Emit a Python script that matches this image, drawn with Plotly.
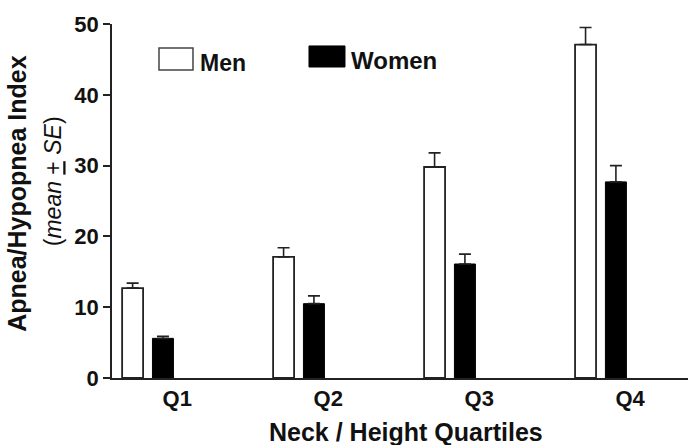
import plotly.graph_objects as go

categories = ["Q1", "Q2", "Q3", "Q4"]
men_mean = [12.7, 17.1, 29.8, 47.1]
men_se = [0.7, 1.3, 2.0, 2.4]
women_mean = [5.6, 10.5, 16.1, 27.7]
women_se = [0.3, 1.1, 1.4, 2.3]

FONT = "Liberation Sans, Arial, sans-serif"
INK = "#111111"
xpos = list(range(len(categories)))
bw = 0.139

fig = go.Figure()
fig.add_trace(go.Bar(
    x=xpos, y=men_mean, name="Men", width=bw, offset=-0.17,
    marker=dict(color="white", line=dict(color="#222222", width=1.8)),
    error_y=dict(type="data", symmetric=False, array=men_se,
                 arrayminus=[0] * len(men_se), color="#222222", thickness=1.6, width=6),
    showlegend=False,
))
fig.add_trace(go.Bar(
    x=xpos, y=women_mean, name="Women", width=bw, offset=0.031,
    marker=dict(color="black", line=dict(color="black", width=1)),
    error_y=dict(type="data", symmetric=False, array=women_se,
                 arrayminus=[0] * len(women_se), color="#222222", thickness=1.6, width=6),
    showlegend=False,
))

fig.update_layout(
    width=688, height=445,
    margin=dict(l=112, r=0, t=24, b=67),
    paper_bgcolor="white", plot_bgcolor="white",
    font=dict(family=FONT, color=INK),
    barmode="overlay",
    xaxis=dict(
        range=[-0.237, 3.578], showgrid=False, zeroline=False,
        showline=True, linecolor="#222222", linewidth=1.8,
        tickmode="array", tickvals=[i + 0.195 for i in xpos], ticktext=categories,
        ticks="", tickfont=dict(size=22, family=FONT, color=INK, weight="bold"),
    ),
    yaxis=dict(
        range=[0, 50], dtick=10, showgrid=False, zeroline=False,
        showline=True, linecolor="#222222", linewidth=1.8,
        ticks="outside", ticklen=7, tickwidth=1.5, tickcolor="#222222",
        tickfont=dict(size=22, family=FONT, color=INK, weight="bold"),
    ),
    shapes=[
        dict(type="rect", xref="paper", yref="paper", x0=0.0816, x1=0.1406, y0=0.870, y1=0.932,
             line=dict(color="#444444", width=1.5), fillcolor="white"),
        dict(type="rect", xref="paper", yref="paper", x0=0.342, x1=0.4045, y0=0.8785, y1=0.938,
             line=dict(color="black", width=1), fillcolor="black"),
    ],
    annotations=[
        dict(text="<b>Men</b>", xref="paper", yref="paper", x=0.149, y=0.89,
             xanchor="left", yanchor="middle", showarrow=False, font=dict(size=23, color=INK)),
        dict(text="<b>Women</b>", xref="paper", yref="paper", x=0.411, y=0.898,
             xanchor="left", yanchor="middle", showarrow=False, font=dict(size=24, color=INK)),
        dict(text="<b>Apnea/Hypopnea Index</b>", xref="paper", yref="paper", x=-0.165, y=0.523,
             xanchor="center", yanchor="middle", textangle=-90, showarrow=False,
             font=dict(size=25, color=INK)),
        dict(text="(<i>mean</i> <u>+</u> <i>SE</i>)", xref="paper", yref="paper", x=-0.102, y=0.5565,
             xanchor="center", yanchor="middle", textangle=-90, showarrow=False,
             font=dict(size=23, color=INK)),
        dict(text="<b>Neck / Height Quartiles</b>", xref="paper", yref="paper", x=0.51, y=-0.1525,
             xanchor="center", yanchor="middle", showarrow=False, font=dict(size=25, color=INK)),
    ],
)

fig.write_html("out.html", config={"displayModeBar": False},
               post_script="document.body.style.margin='0';document.body.style.overflow='hidden';")
